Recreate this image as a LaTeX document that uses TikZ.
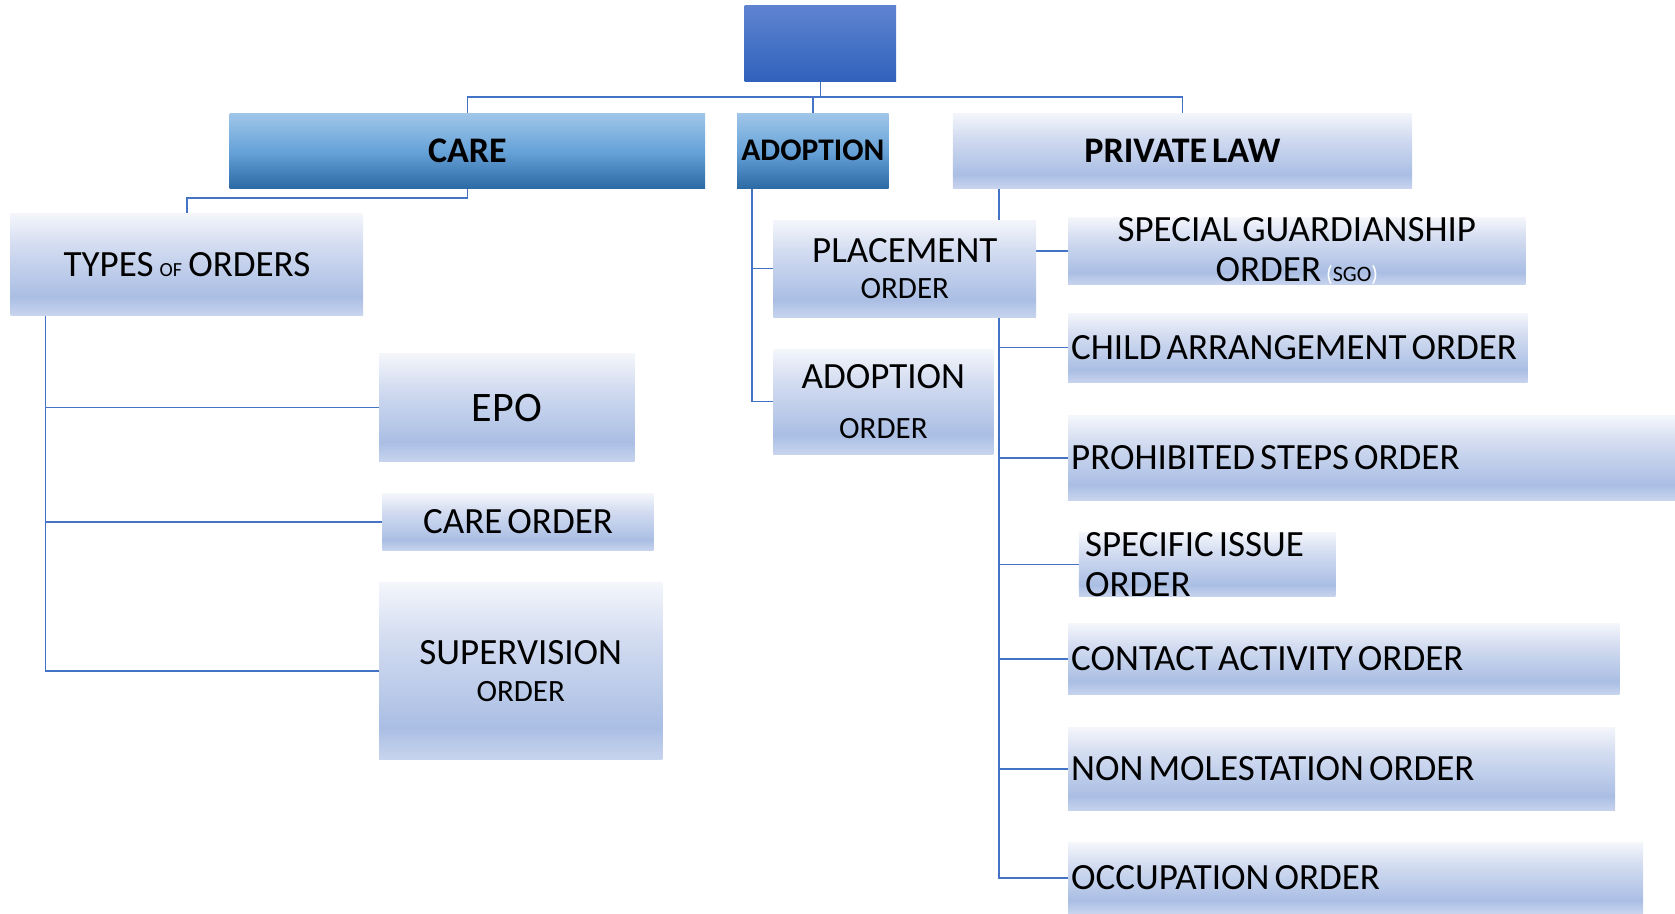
\documentclass[tikz,border=0pt]{standalone}
\usepackage{fontspec}
\setmainfont{Carlito}[WordSpace=0.6]
\pgfdeclarelayer{background}
\pgfsetlayers{background,main}
\definecolor{lbTop}{RGB}{244,246,251}
\definecolor{lbMid}{RGB}{212,221,241}
\definecolor{lbDark}{RGB}{170,190,228}
\definecolor{lbBot}{RGB}{200,212,238}
\definecolor{dbTop}{RGB}{160,198,232}
\definecolor{dbMid}{RGB}{104,163,217}
\definecolor{dbBot}{RGB}{44,106,165}
\definecolor{tbTop}{RGB}{94,132,208}
\definecolor{tbBot}{RGB}{48,98,188}
\definecolor{conncol}{RGB}{68,114,196}
\pgfdeclareverticalshading{lightbox}{100bp}{color(0bp)=(lbBot); color(25bp)=(lbBot); color(34bp)=(lbDark); color(60bp)=(lbMid); color(75bp)=(lbTop); color(100bp)=(lbTop)}
\pgfdeclareverticalshading{darkbox}{100bp}{color(0bp)=(dbBot); color(25bp)=(dbBot); color(50bp)=(dbMid); color(75bp)=(dbTop); color(100bp)=(dbTop)}
\pgfdeclareverticalshading{topbox}{100bp}{color(0bp)=(tbBot); color(25bp)=(tbBot); color(75bp)=(tbTop); color(100bp)=(tbTop)}
\tikzset{
  box/.style={inner sep=0pt, outer sep=0pt, draw=none, align=center, text=black,
    font=\fontsize{37}{40}\selectfont},
  light/.style={box, shading=lightbox},
  dark/.style={box, shading=darkbox, font=\fontsize{36}{40}\selectfont\bfseries},
  topb/.style={box, shading=topbox},
  conn/.style={draw=conncol, line width=1.5pt},
  sz/.style 2 args={minimum width=#1pt, minimum height=#2pt}
}
\newcommand{\smallsz}[1]{{\fontsize{31}{31}\selectfont #1}}
\newcommand{\lft}[2]{\makebox[#1pt][l]{#2}}
\begin{document}
\begin{tikzpicture}[x=1pt,y=-1pt]
\useasboundingbox (0,0) rectangle (1675,913);
% top level
\node[topb, sz={151.7}{75.9}] (top) at (820.35,43.25) {};
\node[dark, sz={475.3}{74.8}] (care) at (467.35,150.6) {CARE};
\node[dark, sz={151.7}{74.8}, font=\fontsize{31.5}{34}\selectfont\bfseries] (adopt) at (812.85,150.6) {ADOPTION};
\node[light, sz={459.2}{74.8}, font=\fontsize{36}{40}\selectfont\bfseries] (plaw) at (1182.4,150.6) {PRIVATE LAW};
% care branch
\node[light, sz={352.5}{101.5}] (types) at (186.95,264.35) {TYPES\,{\fontsize{20}{20}\selectfont OF}\,ORDERS};
\node[light, sz={255.3}{107.9}, font=\fontsize{42}{46}\selectfont] (epo) at (506.85,407.55) {EPO};
\node[light, sz={271.3}{56.6}] (careorder) at (518.05,521.8) {CARE ORDER};
\node[light, sz={283.1}{177.3}, font=\fontsize{37}{37}\selectfont] (superv) at (520.75,670.85) {SUPERVISION\\\smallsz{ORDER}};
% adoption branch
\node[light, sz={262.8}{97.3}, font=\fontsize{37}{35.5}\selectfont] (place) at (904.8,268.65) {PLACEMENT\\\smallsz{ORDER}};
\node[light, sz={220}{104.7}, font=\fontsize{37}{35}\selectfont] (adoptorder) at (883.4,401.65) {ADOPTION\\[15pt]\smallsz{ORDER}};
% private law branch
\node[light, sz={457.2}{61}, font=\fontsize{37}{40}\selectfont] (sgo) at (1296.8,251) {SPECIAL GUARDIANSHIP\\ORDER {\fontsize{22}{22}\selectfont\textcolor{white}{(}SGO\textcolor{white}{)}}};
\node[light, sz={459.3}{69.4}] (child) at (1297.85,347.7) {\lft{453.3}{CHILD ARRANGEMENT ORDER}};
\node[light, sz={606.8}{84.5}] (prohib) at (1371.6,457.75) {\lft{600.8}{PROHIBITED STEPS ORDER}};
\node[light, sz={256.4}{61}] (specific) at (1207.1,564.5) {\lft{244}{SPECIFIC ISSUE}\\\lft{244}{ORDER}};
\node[light, sz={551.2}{70.5}] (contact) at (1343.8,659.05) {\lft{545.2}{CONTACT ACTIVITY ORDER}};
\node[light, sz={546.8}{83.4}] (nonmol) at (1341.6,769.1) {\lft{540.8}{NON MOLESTATION ORDER}};
\node[light, sz={574.8}{70.2}] (occup) at (1355.6,877.9) {\lft{568.8}{OCCUPATION ORDER}};
% connectors
\begin{pgfonlayer}{background}
\coordinate (hub) at (820.35,97);
\draw[conn] (top.south) -- (hub);
\draw[conn] (hub) -| (care.north);
\draw[conn] (hub) -| (adopt.north);
\draw[conn] (hub) -| (plaw.north);
\draw[conn] (care.south) -- ++(0,10) -| (types.north);
\coordinate (tv) at ([xshift=35pt]types.south west);
\draw[conn] (tv) |- (epo.west);
\draw[conn] (tv) |- (careorder.west);
\draw[conn] (tv) |- (superv.west);
\coordinate (av) at ([xshift=15pt]adopt.south west);
\draw[conn] (av) |- (place.west);
\draw[conn] (av) |- (adoptorder.west);
\coordinate (pv) at ([xshift=46pt]plaw.south west);
\draw[conn] (pv) |- (sgo.west);
\draw[conn] (pv) |- (child.west);
\draw[conn] (pv) |- (prohib.west);
\draw[conn] (pv) |- (specific.west);
\draw[conn] (pv) |- (contact.west);
\draw[conn] (pv) |- (nonmol.west);
\draw[conn] (pv) |- (occup.west);
\end{pgfonlayer}
\end{tikzpicture}
\end{document}
